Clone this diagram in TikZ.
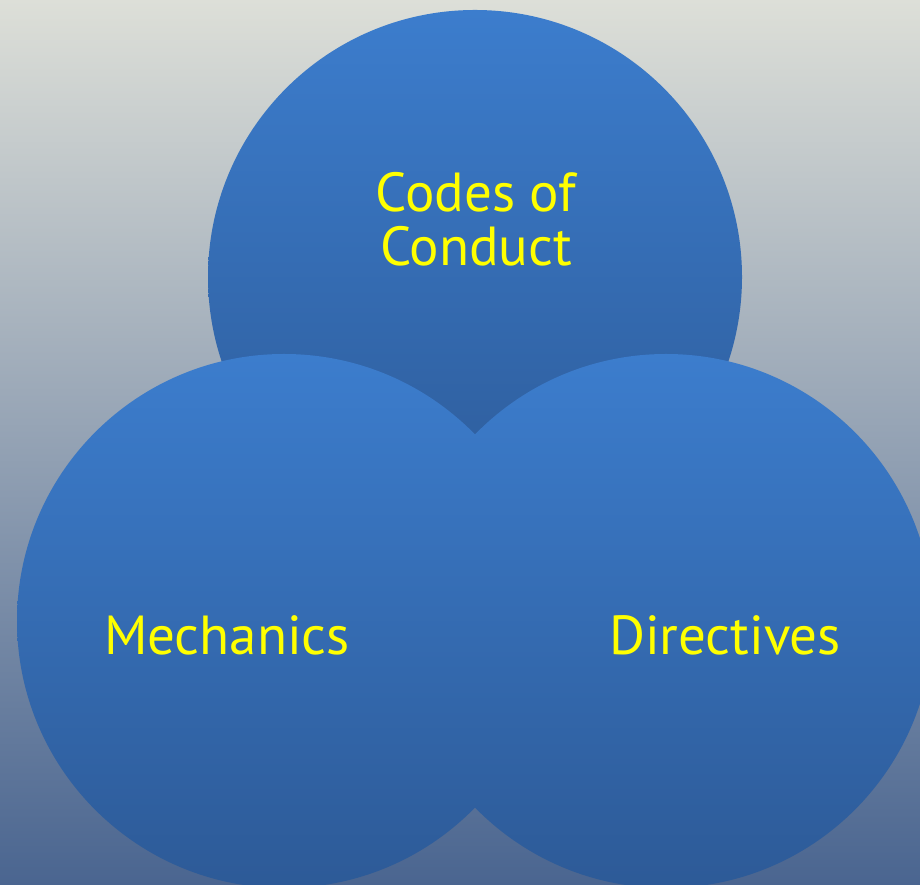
\documentclass[tikz,border=0pt]{standalone}
\usepackage{fontspec}
\setmainfont{PT Sans}
\definecolor{bgtop}{HTML}{DDDFD8}
\definecolor{bgbot}{HTML}{4A6590}
\definecolor{circtop}{HTML}{3C7DCD}
\definecolor{circbot}{HTML}{2D5A97}
\definecolor{lblyellow}{HTML}{FFFF00}
\begin{document}
\begin{tikzpicture}[x=1pt, y=1pt,
    blob/.style={top color=circtop, bottom color=circbot},
    lbl/.style={text=lblyellow, font=\fontsize{55}{54}\selectfont, inner sep=0pt, align=center}]
        \useasboundingbox (0, 0) rectangle (920, 885);
        \clip (0, 0) rectangle (920, 885);
        \shade[top color=bgtop, bottom color=bgbot] (0, 0) rectangle (920, 885);

        \coordinate (codes) at (475, 608);
        \coordinate (mech) at (284, 264);
        \coordinate (dir) at (666, 264);

        \shade[blob] (codes) circle (267);
        \shade[blob] (mech) circle (267);
        \shade[blob] (dir) circle (267);

        \node[lbl, anchor=base] (codesL) at (476, 619) {Codes of\\Conduct};
        \node[lbl, anchor=base] (mechL) at (227, 230) {Mechanics};
        \node[lbl, anchor=base] (dirL) at (725, 230) {Directives};
      \end{tikzpicture}
\end{document}
